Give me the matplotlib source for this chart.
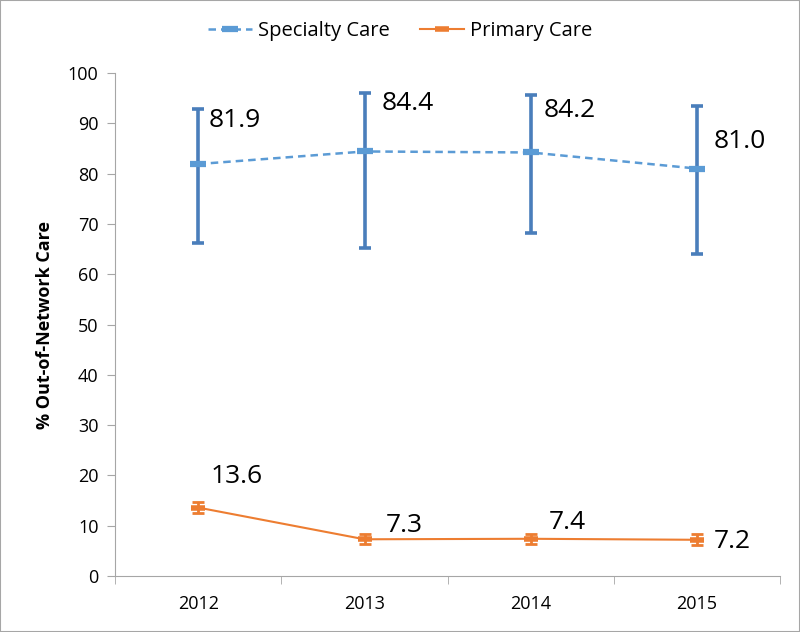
import matplotlib
matplotlib.use("Agg")
import matplotlib.pyplot as plt
from matplotlib.patches import Rectangle

years = ["2012", "2013", "2014", "2015"]
specialty = [81.9, 84.4, 84.2, 81.0]
specialty_lo = [66.3, 65.2, 68.2, 64.0]
specialty_hi = [92.9, 96.1, 95.6, 93.4]
primary = [13.6, 7.3, 7.4, 7.2]
primary_lo = [12.5, 6.4, 6.4, 6.2]
primary_hi = [14.7, 8.3, 8.4, 8.4]

# label offsets in pixels (dx, dy) from each point
spec_offsets = [(10, 44), (17, 48), (13, 42), (17, 27)]
prim_offsets = [(12, 31), (21, 14), (18, 16), (17, -2)]

plt.rcParams["font.family"] = ["Open Sans", "DejaVu Sans"]

fig = plt.figure(figsize=(8, 6.32), dpi=100)
ax = fig.add_axes([0.144, 0.0886, 0.831, 0.7959])
x = list(range(len(years)))

blue = "#5B9BD5"
blue_err = "#4A7EBB"
orange = "#ED7D31"

ax.errorbar(x, specialty,
            yerr=[[s - l for s, l in zip(specialty, specialty_lo)],
                  [h - s for s, h in zip(specialty, specialty_hi)]],
            fmt="none", ecolor=blue_err, elinewidth=2.6, capsize=4, capthick=2.6, zorder=2)
ax.plot(x, specialty, color=blue, ls=(0, (3, 2)), lw=1.8, marker="_", ms=12, mew=4.5,
        label="Specialty Care", zorder=3)

ax.errorbar(x, primary,
            yerr=[[p - l for p, l in zip(primary, primary_lo)],
                  [h - p for p, h in zip(primary, primary_hi)]],
            fmt="none", ecolor=orange, elinewidth=2, capsize=4, capthick=2, zorder=2)
ax.plot(x, primary, color=orange, lw=1.5, marker="_", ms=10, mew=4,
        label="Primary Care", zorder=3)

for xi, v, (dx, dy) in zip(x, specialty, spec_offsets):
    ax.annotate(f"{v:.1f}", (xi, v), xytext=(dx, dy), textcoords="offset pixels",
                ha="left", va="center", fontsize=19)
for xi, v, (dx, dy) in zip(x, primary, prim_offsets):
    ax.annotate(f"{v:.1f}", (xi, v), xytext=(dx, dy), textcoords="offset pixels",
                ha="left", va="center", fontsize=19)

ax.set_xlim(-0.5, 3.5)
ax.set_ylim(0, 100)
ax.set_yticks(range(0, 101, 10))
ax.set_xticks(x)
ax.set_xticklabels(years)
ax.set_xticks([i - 0.5 for i in range(len(years) + 1)], minor=True)
ax.tick_params(axis="x", which="major", length=0, labelsize=13, pad=14)
ax.tick_params(axis="x", which="minor", length=6, color="#A6A6A6")
ax.tick_params(axis="y", length=6, color="#A6A6A6", labelsize=13, pad=6)
for side in ["top", "right"]:
    ax.spines[side].set_visible(False)
for side in ["left", "bottom"]:
    ax.spines[side].set_color("#A6A6A6")
ax.set_ylabel("% Out-of-Network Care", fontsize=13, fontweight="bold", labelpad=10)

fig.legend(*ax.get_legend_handles_labels(), loc="center", bbox_to_anchor=(0.5, 0.951),
           ncol=2, frameon=False, fontsize=14.5, handlelength=2.2, columnspacing=1.5,
           handletextpad=0.3)

fig.patches.append(Rectangle((0, 0), 1, 1, transform=fig.transFigure, fill=False,
                             edgecolor="#A6A6A6", lw=1.5))

fig.savefig("out.png", dpi=100)
